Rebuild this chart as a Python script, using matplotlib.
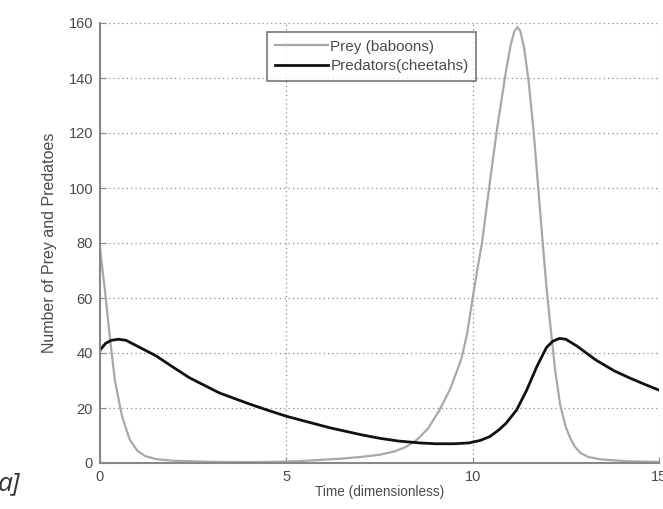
import matplotlib
matplotlib.use("Agg")
import matplotlib.pyplot as plt

plt.rcParams['font.family'] = ['Liberation Sans', 'DejaVu Sans']

# Prey (baboons)
prey_t = [0, 0.13, 0.27, 0.4, 0.59, 0.8, 1.0, 1.2, 1.5, 2.0, 3.0, 4.0, 5.0, 5.5, 6.0, 6.5,
          7.0, 7.5, 7.9, 8.2, 8.5, 8.8, 9.1, 9.4, 9.7, 9.85, 10.0, 10.12, 10.25, 10.46,
          10.67, 10.9, 11.02, 11.12, 11.2, 11.28, 11.38, 11.5, 11.64, 11.76, 11.88, 11.98,
          12.1, 12.22, 12.35, 12.5, 12.62, 12.75, 12.9, 13.1, 13.4, 13.75, 14.2, 15.0]
prey_v = [78, 63, 45, 30, 17, 8.4, 4.5, 2.6, 1.4, 0.8, 0.4, 0.3, 0.5, 0.8, 1.2, 1.6,
          2.2, 3.0, 4.2, 5.8, 8.4, 12.5, 19, 27, 38, 47, 60, 70, 80, 102,
          123, 143, 152, 157, 158.5, 157, 151, 139, 120, 100, 80, 64,
          48, 33, 21, 13, 9, 5.8, 3.6, 2.2, 1.4, 1.0, 0.6, 0.4]

# Predators (cheetahs)
pred_t = [0, 0.15, 0.3, 0.5, 0.7, 1.0, 1.5, 2.0, 2.4, 3.2, 4.0, 4.5, 5.0, 5.5, 6.17,
          7.0, 7.5, 8.0, 8.58, 9.0, 9.5, 9.9, 10.2, 10.46, 10.7, 10.9, 11.18, 11.45,
          11.72, 11.98, 12.15, 12.33, 12.5, 12.8, 13.3, 13.8, 14.2, 14.6, 15.0]
pred_v = [41, 43.5, 44.6, 45, 44.6, 42.5, 39, 34.5, 31, 25.5, 21.5, 19.2, 17, 15.2, 12.8,
          10.3, 9, 8, 7.3, 7, 7, 7.3, 8.2, 9.6, 12, 14.5, 19.3, 26.5,
          35, 42, 44.3, 45.3, 45, 42.5, 37.5, 33.5, 31, 28.7, 26.5]

x_ticks = [0, 5, 10, 15]
y_ticks = [0, 20, 40, 60, 80, 100, 120, 140, 160]

txt = "#4a4a4a"
fig = plt.figure(figsize=(6.63, 5.09), dpi=100)
ax = fig.add_axes([100/663, 46/509, 559/663, 440/509])

ax.plot(prey_t, prey_v, color="#a8a8a8", lw=1.6, label="Prey (baboons)")
ax.plot(pred_t, pred_v, color="#111111", lw=2.0, label="Predators(cheetahs)")

ax.set_xlim(0, 15)
ax.set_ylim(0, 160)
ax.set_xticks(x_ticks)
ax.set_yticks(y_ticks)
ax.grid(True, linestyle=(0, (1, 2.5)), color="#8a8a8a", linewidth=0.9)
for s in ["top", "right"]:
    ax.spines[s].set_visible(False)
for s in ["left", "bottom"]:
    ax.spines[s].set_color("#888888")
    ax.spines[s].set_linewidth(1.5)
ax.tick_params(direction="in", length=4, colors="#888888", labelcolor=txt, labelsize=10.5, pad=5)

ax.set_xlabel("Time (dimensionless)", fontsize=9.8, color=txt, labelpad=1)
ax.set_ylabel("Number of Prey and Predatoes", fontsize=11.5, color=txt, labelpad=8)

leg = ax.legend(loc="upper left", bbox_to_anchor=(167/559, 1 - 9/440), fontsize=11,
                frameon=True, fancybox=False, borderpad=0.5, handlelength=3.5,
                handletextpad=0.15, labelspacing=0.35, borderaxespad=0)
leg.get_frame().set_edgecolor("#555555")
leg.get_frame().set_linewidth(1.2)
for t in leg.get_texts():
    t.set_color(txt)

fig.text(-0.004, 25/509, "a]", fontsize=19, style="italic", color="#333333",
         family="Open Sans", ha="left", va="center")

fig.savefig("out.png", dpi=100)
